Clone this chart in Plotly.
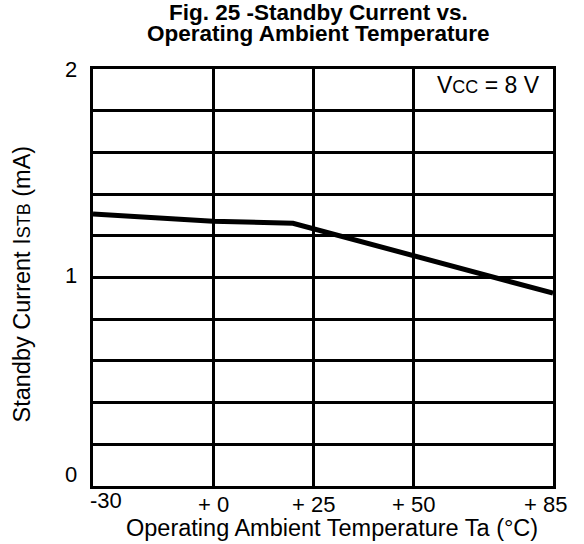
import plotly.graph_objects as go

# Data
temps = [-30, 0, 20, 85]            # Operating ambient temperature (°C)
current = [1.305, 1.27, 1.26, 0.925]  # Standby current (mA)

x_tick_vals = [-30, 0, 25, 50, 85]
x_tick_text = ["-30", "+ 0", "+ 25", "+ 50", "+ 85"]
x_grid_vals = [0, 25, 50]
y_tick_vals = [0, 1, 2]
y_tick_text = ["0", "1", "2"]

FONT = "Liberation Sans, Arial, Helvetica, sans-serif"
FS = 22

fig = go.Figure()
fig.add_trace(go.Scatter(x=temps, y=current, mode="lines",
                         line=dict(color="black", width=5), showlegend=False,
                         hoverinfo="skip"))

fig.update_xaxes(range=[-30, 85], tickvals=x_grid_vals, showticklabels=False,
                 showgrid=True, gridcolor="black", gridwidth=3,
                 showline=True, linecolor="black", linewidth=3, mirror=True,
                 zeroline=False, ticks="")
fig.update_yaxes(range=[0, 2], tick0=0, dtick=0.2, showticklabels=False,
                 showgrid=True, gridcolor="black", gridwidth=3,
                 showline=True, linecolor="black", linewidth=3, mirror=True,
                 zeroline=False, ticks="")

ann = []
# x tick labels
x_anchor = {"-30": "left", "+ 85": "right"}
x_shift = {"-30": -5, "+ 85": 16}
y_shift = {"-30": -14}
for v, t in zip(x_tick_vals, x_tick_text):
    ann.append(dict(x=v, y=0, xref="x", yref="y", text=t, showarrow=False,
                    xanchor=x_anchor.get(t, "center"), yanchor="middle",
                    xshift=x_shift.get(t, 0), yshift=y_shift.get(t, -18),
                    font=dict(family=FONT, size=FS, color="black")))
# y tick labels
y_sh = {0: 12, 1: 2, 2: 0}
for v, t in zip(y_tick_vals, y_tick_text):
    ann.append(dict(x=0, y=v, xref="paper", yref="y", text=t, showarrow=False,
                    xanchor="right", yanchor="middle", xshift=-14, yshift=y_sh[v],
                    font=dict(family=FONT, size=FS, color="black")))
# axis titles
ann.append(dict(x=0.5, y=0, xref="paper", yref="paper", xanchor="center", yanchor="middle",
                yshift=-42, xshift=9, showarrow=False,
                text="Operating Ambient Temperature Ta (°C)",
                font=dict(family=FONT, size=23.5, color="black")))
ann.append(dict(x=0, y=0.5, xref="paper", yref="paper", xanchor="center", yanchor="middle",
                xshift=-72, yshift=-7, showarrow=False, textangle=-90,
                text="Standby Current I<span style='font-size:18px'>STB</span> (mA)",
                font=dict(family=FONT, size=23.5, color="black")))
# title (two lines)
ann.append(dict(x=0.5, y=1, xref="paper", yref="paper", xanchor="center", yanchor="middle",
                yshift=57, xshift=-5, showarrow=False, text="<b>Fig. 25 -Standby Current vs.</b>",
                font=dict(family=FONT, size=22.5, color="black")))
ann.append(dict(x=0.5, y=1, xref="paper", yref="paper", xanchor="center", yanchor="middle",
                yshift=36, xshift=-5, showarrow=False, text="<b>Operating Ambient Temperature</b>",
                font=dict(family=FONT, size=22.5, color="black")))
# condition label
ann.append(dict(x=1, y=1, xref="paper", yref="paper", xanchor="right", yanchor="middle",
                xshift=-11, yshift=-16, showarrow=False,
                text="V<span style='font-size:18px'>CC</span> = 8 V",
                font=dict(family=FONT, size=23, color="black")))

fig.update_layout(width=584, height=544, margin=dict(l=93, r=31, t=69, b=58),
                  paper_bgcolor="white", plot_bgcolor="white", annotations=ann)

# remove the default 8 px page margin so the figure fills the window exactly
fig.write_html("out.html", config={"displayModeBar": False, "staticPlot": True},
               post_script="document.body.style.margin='0px';")
